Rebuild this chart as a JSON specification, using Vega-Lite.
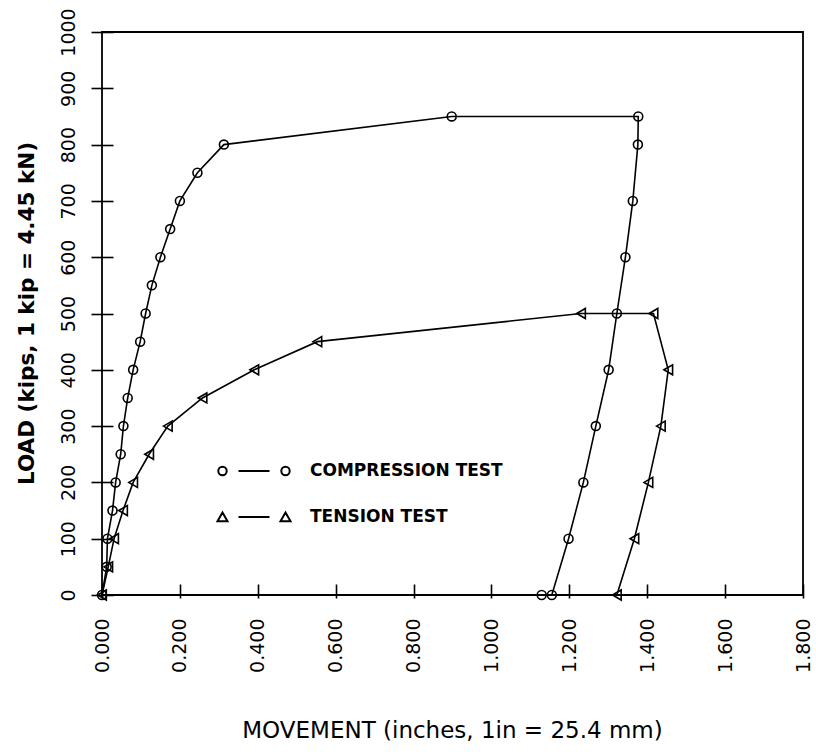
{
  "$schema": "https://vega.github.io/schema/vega-lite/v6.json",
  "width": 701,
  "height": 563,
  "autosize": "none",
  "padding": {"left": 102, "top": 32, "right": 13, "bottom": 157},
  "background": "white",
  "config": {
    "view": {"stroke": "black", "strokeWidth": 1.8},
    "font": "DejaVu Sans"
  },
  "data": {
    "values": [
      {"test": "COMPRESSION TEST", "i": 1, "movement": 0.0, "load": 0},
      {"test": "COMPRESSION TEST", "i": 2, "movement": 0.012, "load": 50},
      {"test": "COMPRESSION TEST", "i": 3, "movement": 0.014, "load": 100},
      {"test": "COMPRESSION TEST", "i": 4, "movement": 0.027, "load": 150},
      {"test": "COMPRESSION TEST", "i": 5, "movement": 0.035, "load": 200},
      {"test": "COMPRESSION TEST", "i": 6, "movement": 0.048, "load": 250},
      {"test": "COMPRESSION TEST", "i": 7, "movement": 0.055, "load": 300},
      {"test": "COMPRESSION TEST", "i": 8, "movement": 0.066, "load": 350},
      {"test": "COMPRESSION TEST", "i": 9, "movement": 0.080, "load": 400},
      {"test": "COMPRESSION TEST", "i": 10, "movement": 0.098, "load": 450},
      {"test": "COMPRESSION TEST", "i": 11, "movement": 0.112, "load": 500},
      {"test": "COMPRESSION TEST", "i": 12, "movement": 0.128, "load": 550},
      {"test": "COMPRESSION TEST", "i": 13, "movement": 0.150, "load": 600},
      {"test": "COMPRESSION TEST", "i": 14, "movement": 0.175, "load": 650},
      {"test": "COMPRESSION TEST", "i": 15, "movement": 0.200, "load": 700},
      {"test": "COMPRESSION TEST", "i": 16, "movement": 0.245, "load": 750},
      {"test": "COMPRESSION TEST", "i": 17, "movement": 0.313, "load": 800},
      {"test": "COMPRESSION TEST", "i": 18, "movement": 0.898, "load": 850},
      {"test": "COMPRESSION TEST", "i": 19, "movement": 1.377, "load": 850},
      {"test": "COMPRESSION TEST", "i": 20, "movement": 1.376, "load": 800},
      {"test": "COMPRESSION TEST", "i": 21, "movement": 1.363, "load": 700},
      {"test": "COMPRESSION TEST", "i": 22, "movement": 1.344, "load": 600},
      {"test": "COMPRESSION TEST", "i": 23, "movement": 1.322, "load": 500},
      {"test": "COMPRESSION TEST", "i": 24, "movement": 1.301, "load": 400},
      {"test": "COMPRESSION TEST", "i": 25, "movement": 1.268, "load": 300},
      {"test": "COMPRESSION TEST", "i": 26, "movement": 1.236, "load": 200},
      {"test": "COMPRESSION TEST", "i": 27, "movement": 1.198, "load": 100},
      {"test": "COMPRESSION TEST", "i": 28, "movement": 1.155, "load": 0},
      {"test": "COMPRESSION TEST", "i": 29, "movement": 1.129, "load": 0},
      {"test": "TENSION TEST", "i": 1, "movement": 0.0, "load": 0},
      {"test": "TENSION TEST", "i": 2, "movement": 0.016, "load": 50},
      {"test": "TENSION TEST", "i": 3, "movement": 0.031, "load": 100},
      {"test": "TENSION TEST", "i": 4, "movement": 0.054, "load": 150},
      {"test": "TENSION TEST", "i": 5, "movement": 0.080, "load": 200},
      {"test": "TENSION TEST", "i": 6, "movement": 0.121, "load": 250},
      {"test": "TENSION TEST", "i": 7, "movement": 0.169, "load": 300},
      {"test": "TENSION TEST", "i": 8, "movement": 0.258, "load": 350},
      {"test": "TENSION TEST", "i": 9, "movement": 0.391, "load": 400},
      {"test": "TENSION TEST", "i": 10, "movement": 0.553, "load": 450},
      {"test": "TENSION TEST", "i": 11, "movement": 1.230, "load": 500},
      {"test": "TENSION TEST", "i": 12, "movement": 1.416, "load": 500},
      {"test": "TENSION TEST", "i": 13, "movement": 1.454, "load": 400},
      {"test": "TENSION TEST", "i": 14, "movement": 1.435, "load": 300},
      {"test": "TENSION TEST", "i": 15, "movement": 1.403, "load": 200},
      {"test": "TENSION TEST", "i": 16, "movement": 1.367, "load": 100},
      {"test": "TENSION TEST", "i": 17, "movement": 1.322, "load": 0}
    ]
  },
  "encoding": {
    "x": {
      "field": "movement",
      "type": "quantitative",
      "scale": {"domain": [0, 1.8], "nice": false, "zero": false},
      "axis": {
        "title": "MOVEMENT (inches, 1in = 25.4 mm)",
        "values": [0, 0.2, 0.4, 0.6, 0.8, 1.0, 1.2, 1.4, 1.6, 1.8],
        "format": ".3f",
        "grid": false,
        "domain": false,
        "zindex": 1,
        "offset": -11,
        "tickSize": 14,
        "tickWidth": 1.6,
        "tickColor": "black",
        "labelAngle": -90,
        "labelAlign": "right",
        "labelBaseline": "middle",
        "labelPadding": 20,
        "labelFont": "DejaVu Sans",
        "labelFontSize": 19,
        "labelColor": "black",
        "labelFlush": false,
        "labelOverlap": false,
        "titleFont": "DejaVu Sans",
        "titleFontSize": 23,
        "titleFontWeight": "normal",
        "titleColor": "black",
        "titleX": 350,
        "titleY": 153,
        "titleAlign": "center",
        "titleBaseline": "alphabetic"
      }
    },
    "y": {
      "field": "load",
      "type": "quantitative",
      "scale": {"domain": [0, 1000], "nice": false},
      "axis": {
        "title": "LOAD (kips, 1 kip = 4.45 kN)",
        "values": [0, 100, 200, 300, 400, 500, 600, 700, 800, 900, 1000],
        "format": "d",
        "grid": false,
        "domain": false,
        "zindex": 1,
        "offset": -11,
        "tickSize": 22,
        "tickWidth": 1.6,
        "tickColor": "black",
        "labelAngle": -90,
        "labelAlign": "center",
        "labelBaseline": "alphabetic",
        "labelPadding": 17,
        "labelFont": "DejaVu Sans",
        "labelFontSize": 19,
        "labelColor": "black",
        "labelFlush": false,
        "labelOverlap": false,
        "titleFont": "DejaVu Sans",
        "titleFontSize": 21.5,
        "titleFontWeight": "bold",
        "titleColor": "black",
        "titleAngle": -90,
        "titleX": -85.5,
        "titleY": 281,
        "titleAlign": "center",
        "titleBaseline": "middle"
      }
    }
  },
  "layer": [
    {
      "mark": {"type": "line", "color": "black", "strokeWidth": 1.6},
      "encoding": {
        "detail": {"field": "test", "type": "nominal"},
        "order": {"field": "i", "type": "quantitative"}
      }
    },
    {
      "transform": [{"filter": "datum.test === 'COMPRESSION TEST'"}],
      "mark": {"type": "point", "shape": "circle", "filled": false, "color": "black", "strokeWidth": 1.6, "size": 80, "opacity": 1}
    },
    {
      "transform": [{"filter": "datum.test === 'TENSION TEST'"}],
      "mark": {"type": "point", "shape": "triangle-left", "filled": false, "color": "black", "strokeWidth": 1.6, "size": 100, "opacity": 1}
    },
    {
      "transform": [{"filter": "false"}],
      "mark": {"type": "point", "filled": false, "color": "black", "strokeWidth": 2, "opacity": 1},
      "encoding": {
        "shape": {
          "field": "test",
          "type": "nominal",
          "scale": {
            "domain": ["COMPRESSION TEST", "TENSION TEST"],
            "range": [
              "M-3.57,0A0.42,0.42,0,1,0,-2.73,0A0.42,0.42,0,1,0,-3.57,0ZM-1.55,0L1.55,0M2.73,0A0.42,0.42,0,1,0,3.57,0A0.42,0.42,0,1,0,2.73,0Z",
              "M-3.65,0.42L-3.15,-0.45L-2.65,0.42ZM-1.55,0L1.55,0M2.65,0.42L3.15,-0.45L3.65,0.42Z"
            ]
          },
          "legend": {
            "title": null,
            "orient": "none",
            "legendX": 141,
            "legendY": 428,
            "padding": 0,
            "symbolSize": 400,
            "symbolStrokeWidth": 2,
            "symbolStrokeColor": "black",
            "symbolFillColor": "transparent",
            "symbolOpacity": 1,
            "labelFont": "DejaVu Sans",
            "labelFontWeight": "bold",
            "labelFontSize": 17,
            "labelColor": "black",
            "labelOffset": 45,
            "labelLimit": 400,
            "rowPadding": 26
          }
        }
      }
    }
  ]
}
